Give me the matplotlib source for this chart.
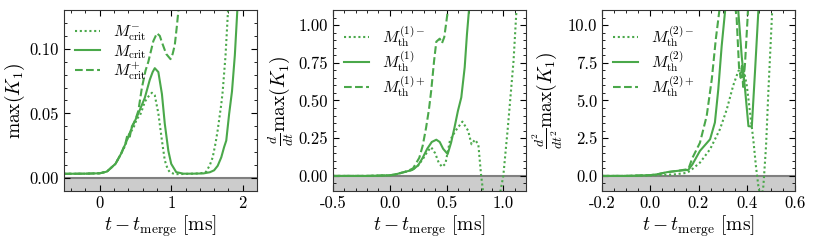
import matplotlib
matplotlib.use("Agg")
import matplotlib.pyplot as plt
from matplotlib.ticker import MultipleLocator, FormatStrFormatter

plt.rcParams['font.family'] = 'serif'
plt.rcParams['font.serif'] = ['cmr10', 'DejaVu Serif']
plt.rcParams['mathtext.fontset'] = 'cm'
plt.rcParams['axes.formatter.use_mathtext'] = True
plt.rcParams['axes.unicode_minus'] = True

GREEN = '#4aa84a'

# ---------------- Panel 1: max(K1) ----------------
p1_t_minus = [-0.5, -0.2, 0.0, 0.1, 0.22, 0.30, 0.36, 0.40, 0.44, 0.48, 0.52, 0.56, 0.60, 0.63, 0.68, 0.73,
              0.77, 0.82, 0.87, 0.91, 0.95, 0.98, 1.05, 1.2, 1.35, 1.45, 1.49, 1.54, 1.58, 1.62, 1.65,
              1.70, 1.72, 1.76, 1.80]
p1_y_minus = [0.0033, 0.0034, 0.0037, 0.005, 0.011, 0.019, 0.0255, 0.033, 0.036, 0.040, 0.046, 0.048, 0.054, 0.059, 0.063, 0.066,
              0.064, 0.050, 0.029, 0.0137, 0.007, 0.0046, 0.003, 0.0032, 0.0035, 0.004, 0.005, 0.010, 0.016, 0.027, 0.037,
              0.057, 0.067, 0.095, 0.135]

p1_t_mid = [-0.5, -0.2, 0.0, 0.1, 0.22, 0.30, 0.36, 0.45, 0.54, 0.63, 0.70, 0.74, 0.77, 0.82, 0.87, 0.91,
            0.96, 1.00, 1.07, 1.17, 1.3, 1.45, 1.54, 1.60, 1.65, 1.70, 1.74, 1.77, 1.81, 1.85, 1.89, 1.93]
p1_y_mid = [0.0033, 0.0034, 0.0037, 0.005, 0.011, 0.019, 0.0265, 0.039, 0.050, 0.062, 0.076, 0.082, 0.085, 0.082, 0.065, 0.042,
            0.021, 0.011, 0.0046, 0.0034, 0.0034, 0.0036, 0.0045, 0.006, 0.0095, 0.016, 0.024, 0.029, 0.0495, 0.067, 0.095, 0.135]

p1_t_plus = [-0.5, -0.2, 0.0, 0.1, 0.22, 0.30, 0.36, 0.39, 0.42, 0.45, 0.48, 0.51, 0.54, 0.59, 0.64, 0.68, 0.75,
             0.80, 0.84, 0.87, 0.93, 0.99, 1.02, 1.05, 1.08, 1.11]
p1_y_plus = [0.0033, 0.0034, 0.0037, 0.005, 0.011, 0.019, 0.027, 0.034, 0.032, 0.040, 0.043, 0.047, 0.052, 0.070, 0.083, 0.090, 0.106,
             0.112, 0.110, 0.105, 0.096, 0.092, 0.096, 0.103, 0.118, 0.135]

# ---------------- Panel 2: d/dt max(K1) ----------------
p2_t_minus = [-0.5, -0.2, 0.0, 0.05, 0.1, 0.15, 0.2, 0.25, 0.29, 0.33, 0.365, 0.40, 0.43, 0.46, 0.49, 0.53,
              0.58, 0.64, 0.69, 0.72, 0.75, 0.78, 0.805, 0.83, 0.90, 0.97, 1.00, 1.04, 1.09, 1.12]
p2_y_minus = [0.0, 0.0, 0.004, 0.01, 0.02, 0.03, 0.04, 0.07, 0.11, 0.16, 0.19, 0.15, 0.09, 0.06, 0.08, 0.235,
              0.30, 0.36, 0.30, 0.21, 0.24, 0.21, 0.0, -0.15, -0.6, -0.12, 0.0, 0.32, 0.76, 1.15]

p2_t_mid = [-0.5, -0.2, 0.0, 0.05, 0.1, 0.15, 0.2, 0.25, 0.29, 0.33, 0.37, 0.41, 0.44, 0.47, 0.51,
            0.54, 0.57, 0.60, 0.63, 0.66, 0.68, 0.70]
p2_y_mid = [0.0, 0.0, 0.004, 0.01, 0.02, 0.03, 0.04, 0.07, 0.12, 0.18, 0.225, 0.24, 0.225, 0.18, 0.145,
            0.22, 0.32, 0.43, 0.52, 0.72, 0.94, 1.12]

p2_t_plus = [-0.5, -0.2, 0.0, 0.05, 0.1, 0.15, 0.205, 0.26, 0.29, 0.32, 0.345, 0.365, 0.39, 0.41, 0.44,
             0.46, 0.48, 0.50, 0.515]
p2_y_plus = [0.0, 0.0, 0.004, 0.01, 0.02, 0.03, 0.05, 0.12, 0.2, 0.32, 0.44, 0.565, 0.76, 0.89, 0.91,
             0.88, 0.92, 1.03, 1.12]

# ---------------- Panel 3: d2/dt2 max(K1) ----------------
p3_t_minus = [-0.2, -0.1, 0.0, 0.05, 0.1, 0.15, 0.165, 0.206, 0.248, 0.289, 0.317, 0.344, 0.365, 0.386,
              0.40, 0.41, 0.427, 0.438, 0.448, 0.46, 0.469, 0.48, 0.49, 0.50, 0.507]
p3_y_minus = [0.0, 0.0, 0.03, 0.06, 0.1, 0.2, 0.33, 0.88, 1.77, 3.1, 4.4, 6.0, 6.95, 7.2,
              6.0, 4.7, 2.43, 0.66, -0.66, -1.6, -0.66, 1.99, 5.74, 9.1, 11.5]

p3_t_mid = [-0.2, -0.1, 0.0, 0.03, 0.07, 0.11, 0.158, 0.175, 0.206, 0.248, 0.268, 0.282, 0.296, 0.310,
            0.318, 0.36, 0.365, 0.379, 0.393, 0.407, 0.421, 0.434, 0.448, 0.452]
p3_y_mid = [0.0, 0.0, 0.05, 0.11, 0.25, 0.33, 0.40, 0.77, 1.66, 2.43, 3.54, 5.74, 8.6, 10.9,
            12.5, 12.5, 10.9, 7.95, 5.74, 3.3, 3.27, 6.85, 10.9, 11.5]

p3_t_plus = [-0.2, -0.1, 0.0, 0.03, 0.07, 0.11, 0.158, 0.175, 0.206, 0.234, 0.255, 0.272, 0.286, 0.29,
             0.35, 0.358, 0.368, 0.375, 0.38, 0.385, 0.393, 0.405, 0.41]
p3_y_plus = [0.0, 0.0, 0.05, 0.11, 0.25, 0.33, 0.45, 1.2, 2.2, 3.98, 6.4, 9.1, 10.9, 11.5,
             11.5, 10.5, 7.2, 6.5, 7.3, 5.9, 7.5, 10.9, 11.5]

panels = [
    dict(data=[(p1_t_minus, p1_y_minus), (p1_t_mid, p1_y_mid), (p1_t_plus, p1_y_plus)],
         labels=[r'$M_{\rm crit}^{-}$', r'$M_{\rm crit}$', r'$M_{\rm crit}^{+}$'],
         xlim=(-0.5, 2.2), ylim=(-0.01, 0.13), xmaj=1, xmin=0.2, ymaj=0.05, ymin=0.01,
         ylabel=r'$\max(K_1)$', yfmt='%.2f', xfmt='%d'),
    dict(data=[(p2_t_minus, p2_y_minus), (p2_t_mid, p2_y_mid), (p2_t_plus, p2_y_plus)],
         labels=[r'$M_{\rm th}^{(1)-}$', r'$M_{\rm th}^{(1)}$', r'$M_{\rm th}^{(1)+}$'],
         xlim=(-0.5, 1.2), ylim=(-0.1, 1.1), xmaj=0.5, xmin=0.1, ymaj=0.25, ymin=0.05,
         ylabel=r'$\frac{d}{dt}\max(K_1)$', yfmt='%.2f', xfmt='%.1f'),
    dict(data=[(p3_t_minus, p3_y_minus), (p3_t_mid, p3_y_mid), (p3_t_plus, p3_y_plus)],
         labels=[r'$M_{\rm th}^{(2)-}$', r'$M_{\rm th}^{(2)}$', r'$M_{\rm th}^{(2)+}$'],
         xlim=(-0.2, 0.6), ylim=(-1, 11), xmaj=0.2, xmin=0.05, ymaj=2.5, ymin=0.5,
         ylabel=r'$\frac{d^2}{dt^2}\max(K_1)$', yfmt='%.1f', xfmt='%.1f'),
]

styles = [dict(ls=(0, (1, 1.3))), dict(ls='-'), dict(ls=(0, (3.7, 1.6)))]

fig = plt.figure(figsize=(8.14, 2.43), dpi=100)
lefts = [64 / 814, 333 / 814, 602 / 814]
width = 193 / 814
bottom = 1 - 191 / 243
height = 181 / 243

for left, p in zip(lefts, panels):
    ax = fig.add_axes([left, bottom, width, height])
    ax.axhspan(p['ylim'][0], 0, color='#cccccc', zorder=0)
    ax.axhline(0, color='#808080', lw=1.5, zorder=1)
    for (t, y), lab, st in zip(p['data'], p['labels'], styles):
        ax.plot(t, y, color=GREEN, lw=1.5, label=lab, **st)
    ax.set_xlim(*p['xlim'])
    ax.set_ylim(*p['ylim'])
    ax.xaxis.set_major_locator(MultipleLocator(p['xmaj']))
    ax.xaxis.set_minor_locator(MultipleLocator(p['xmin']))
    ax.yaxis.set_major_locator(MultipleLocator(p['ymaj']))
    ax.yaxis.set_minor_locator(MultipleLocator(p['ymin']))
    ax.yaxis.set_major_formatter(FormatStrFormatter(p['yfmt']))
    ax.xaxis.set_major_formatter(FormatStrFormatter(p['xfmt']))
    ax.tick_params(which='both', direction='in', top=True, right=True, labelsize=12)
    ax.tick_params(which='major', length=4, width=0.8)
    ax.tick_params(which='minor', length=2, width=0.6)
    ax.set_xlabel(r'$t - t_{\rm merge}\ [{\rm ms}]$', fontsize=14, labelpad=2)
    ax.set_ylabel(p['ylabel'], fontsize=14, labelpad=2)
    for s in ax.spines.values():
        s.set_color('#333333')
    ax.legend(loc='upper left', bbox_to_anchor=(0.0, 0.985), frameon=False, fontsize=11.5,
              handlelength=1.55, labelspacing=0.0, borderaxespad=0.3, borderpad=0.4,
              handletextpad=0.8)

fig.savefig('out.png', dpi=100)
